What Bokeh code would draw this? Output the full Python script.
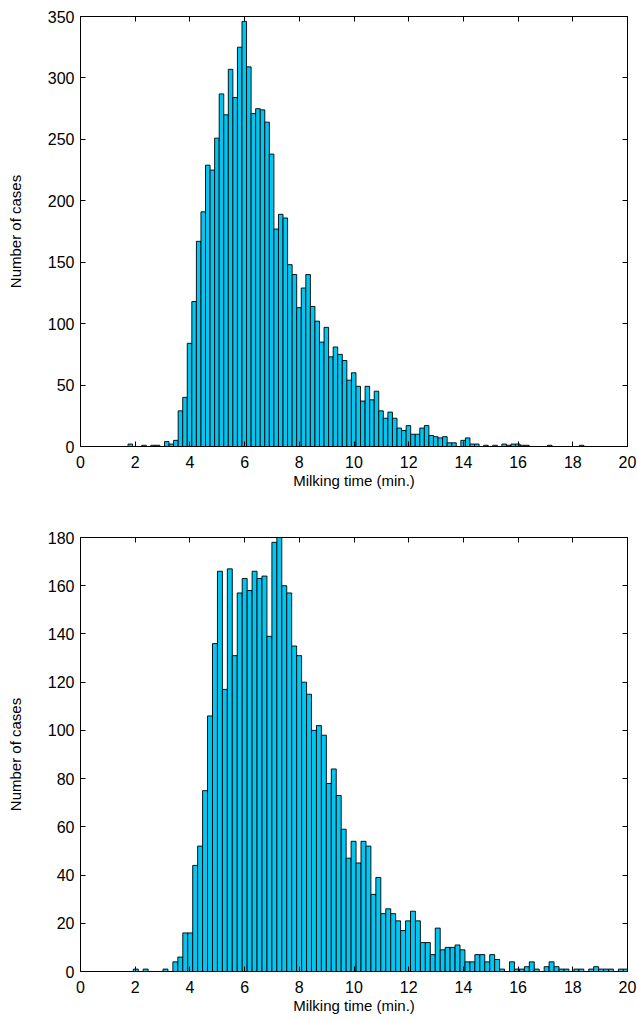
import numpy as np
from bokeh.plotting import figure
from bokeh.layouts import column
from bokeh.models import LinearAxis, FixedTicker, CustomJSTickFormatter, Range1d
from bokeh.embed import file_html
from bokeh.resources import INLINE

# ---------------- data ----------------
x_ticks = list(range(0, 21, 2))

top_bin_start = 1.737
top_bin_width = 0.1667
top_counts = [2, 0, 0, 1, 0, 1, 1, 0, 4, 2, 5, 29, 40,
              84, 118, 167, 191, 229, 225, 251, 287, 270, 307, 284, 325, 346, 309, 271, 275, 274, 264, 238, 177, 189,
              186, 148, 140, 113, 129, 140, 114, 102, 85, 97, 73, 81, 75, 70, 54, 60, 49, 37, 49, 38, 45,
              29, 23, 28, 23, 15, 13, 17, 10, 10, 15, 17, 9, 8, 7, 8, 3, 3, 0, 5, 7, 2, 2,
              0, 1, 0, 1, 0, 2, 1, 2, 2, 1, 1, 0, 0, 0, 0, 1, 0, 0, 0, 0, 0, 0, 1]
top_y_ticks = list(range(0, 351, 50))

bottom_bin_start = 1.93
bottom_bin_width = 0.181
bottom_counts = [1, 0, 1, 0, 0, 0, 1, 0, 4, 6, 16, 16,
                 44, 52, 75, 106, 136, 166, 117, 167, 131, 157, 163, 158, 166, 163, 164, 139, 178, 180,
                 160, 157, 135, 131, 120, 115, 100, 102, 98, 78, 84, 73, 59, 47,
                 54, 45, 54, 52, 32, 39, 24, 26, 24, 21, 17, 21, 25, 21, 12, 12, 7, 18, 9, 10, 10, 11, 9, 4,
                 4, 7, 7, 4, 7, 5, 1, 0, 4, 1, 1, 2, 4, 1, 0, 2, 4, 2, 1, 1, 0, 1, 1, 0, 1, 2, 1, 1, 1, 0, 1, 1]
bottom_y_ticks = list(range(0, 181, 20))

x_label = "Milking time (min.)"
y_label = "Number of cases"

FONT = "Liberation Sans"
FILL = "#00c6f2"


def style_axis(ax, ticks, show_labels):
    ax.ticker = FixedTicker(ticks=ticks)
    ax.axis_line_color = "black"
    ax.axis_line_width = 1
    ax.major_tick_line_color = "black"
    ax.major_tick_in = 5
    ax.major_tick_out = 0
    ax.minor_tick_line_color = None
    if show_labels:
        ax.major_label_text_font = FONT
        ax.major_label_text_font_size = "16px"
        ax.major_label_text_color = "black"
        ax.axis_label_text_font = FONT
        ax.axis_label_text_font_size = "15px"
        ax.axis_label_text_font_style = "normal"
        ax.axis_label_text_color = "black"
    else:
        ax.formatter = CustomJSTickFormatter(code="return ''")
        ax.major_label_text_font_size = "0px"
        ax.major_label_standoff = 0


def make(counts, start, width, yticks, ymax, height, btop, bbottom):
    p = figure(width=637, height=height, x_range=Range1d(0, 20), y_range=Range1d(0, ymax),
               output_backend="svg", toolbar_location=None,
               min_border_left=80, min_border_right=10,
               min_border_top=btop, min_border_bottom=bbottom)
    left = start + width * np.arange(len(counts))
    right = left + width
    p.quad(left=left, right=right, bottom=0, top=counts,
           fill_color=FILL, line_color="black", line_width=0.9)
    p.grid.visible = False
    p.outline_line_color = "black"
    p.outline_line_width = 1
    p.background_fill_color = "white"
    p.border_fill_color = "white"

    style_axis(p.xaxis[0], x_ticks, True)
    style_axis(p.yaxis[0], yticks, True)
    p.xaxis[0].axis_label = x_label
    p.yaxis[0].axis_label = y_label
    p.xaxis[0].major_label_standoff = 9
    p.xaxis[0].axis_label_standoff = 1
    p.yaxis[0].major_label_standoff = 6
    p.yaxis[0].axis_label_standoff = 21

    top_ax = LinearAxis()
    right_ax = LinearAxis()
    style_axis(top_ax, x_ticks, False)
    style_axis(right_ax, yticks, False)
    p.add_layout(top_ax, "above")
    p.add_layout(right_ax, "right")
    return p


p1 = make(top_counts, top_bin_start, top_bin_width, top_y_ticks, 350, 500, 16, 54)
p2 = make(bottom_counts, bottom_bin_start, bottom_bin_width, bottom_y_ticks, 180, 519, 37, 48)

layout = column(p1, p2, spacing=0)
open("out.html", "w").write(file_html(layout, INLINE))
